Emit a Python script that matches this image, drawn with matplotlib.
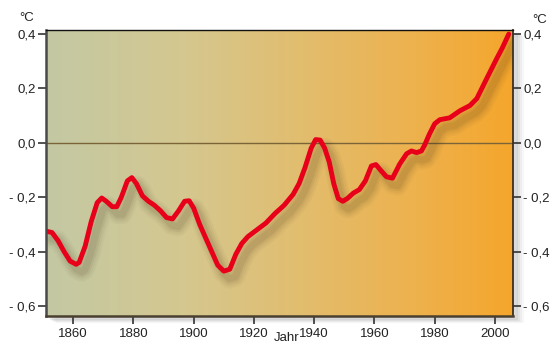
import matplotlib
matplotlib.use("Agg")
import matplotlib.pyplot as plt
import matplotlib.patheffects as pe
from matplotlib.colors import LinearSegmentedColormap
import numpy as np

years = [1851, 1853, 1855, 1857, 1859, 1861, 1862, 1864, 1866, 1868, 1869.5,
         1871, 1873, 1874.5, 1876, 1878, 1879.5, 1881, 1883, 1885, 1887, 1889,
         1891, 1893, 1895, 1897, 1898.5, 1900, 1902, 1904, 1906, 1908, 1910,
         1912, 1914, 1916, 1918, 1921, 1924, 1927, 1930, 1933, 1935, 1937,
         1939, 1940.5, 1942, 1943.5, 1945, 1946.5, 1948, 1949.5, 1951, 1953,
         1955, 1957, 1959, 1960.5, 1962, 1964, 1966, 1968.4, 1970.7, 1972.3,
         1974, 1975.6, 1976.6, 1978.3, 1980, 1981.7, 1985, 1988.4, 1991.7,
         1994, 1997.3, 2000.6, 2002.5, 2004.6]
temps = [-0.325, -0.33, -0.36, -0.40, -0.435, -0.447, -0.44, -0.38, -0.29,
         -0.22, -0.203, -0.215, -0.235, -0.235, -0.20, -0.14, -0.128, -0.15,
         -0.195, -0.215, -0.23, -0.25, -0.275, -0.28, -0.25, -0.215, -0.213,
         -0.24, -0.30, -0.35, -0.40, -0.45, -0.472, -0.465, -0.41, -0.37,
         -0.345, -0.32, -0.295, -0.26, -0.23, -0.19, -0.15, -0.09, -0.02,
         0.012, 0.01, -0.02, -0.07, -0.15, -0.205, -0.215, -0.205, -0.185,
         -0.172, -0.14, -0.085, -0.08, -0.10, -0.125, -0.13, -0.078, -0.04,
         -0.03, -0.036, -0.03, -0.01, 0.033, 0.07, 0.085, 0.092, 0.118, 0.137,
         0.163, 0.237, 0.31, 0.35, 0.40]

xticks = [1860, 1880, 1900, 1920, 1940, 1960, 1980, 2000]
yticks = [0.4, 0.2, 0.0, -0.2, -0.4, -0.6]
ylabels = ["0,4", "0,2", "0,0", "- 0,2", "- 0,4", "- 0,6"]

plt.rcParams['font.family'] = ['Liberation Sans', 'DejaVu Sans']

fig = plt.figure(figsize=(5.55, 3.45), dpi=100)
fig.patch.set_facecolor('white')
ax = fig.add_axes([46/555, 29/345, 467/555, 286/345])

xmin, xmax = 1851, 2006
ymin, ymax = -0.637, 0.415

# panel drop shadow
for i, a in enumerate([0.05, 0.04, 0.03, 0.02]):
    r = plt.Rectangle((46/555 + (4+i*2)/555, 29/345 - (3+i)/345), 467/555, 286/345,
                      transform=fig.transFigure, color='black', alpha=a, zorder=-5)
    fig.patches.append(r)

cmap = LinearSegmentedColormap.from_list(
    'bg', [(0.0, '#c3c9a4'), (0.3, '#d5c78f'), (0.55, '#e2bd6e'),
           (0.8, '#eeb14c'), (1.0, '#f5a62c')])
grad = np.linspace(0, 1, 512).reshape(1, -1)
ax.imshow(grad, cmap=cmap, extent=[xmin, xmax, ymin, ymax], aspect='auto',
          zorder=0, interpolation='bilinear')

ax.axhline(0, color='#7a6438', lw=1.0, zorder=1)

shadow = [pe.SimpleLineShadow(offset=(4, -5.5), shadow_color='#3a2a10', alpha=0.035, linewidth=14),
          pe.SimpleLineShadow(offset=(4, -5.5), shadow_color='#3a2a10', alpha=0.045, linewidth=11),
          pe.SimpleLineShadow(offset=(4, -5.5), shadow_color='#3a2a10', alpha=0.06, linewidth=8),
          pe.SimpleLineShadow(offset=(4, -5.5), shadow_color='#3a2a10', alpha=0.08, linewidth=5),
          pe.Normal()]
ax.plot(years, temps, color='#e8001a', lw=3.5, solid_capstyle='round',
        solid_joinstyle='round', zorder=3, path_effects=shadow)

ax.set_xlim(xmin, xmax)
ax.set_ylim(ymin, ymax)
ax.set_xticks(xticks)
ax.set_xticklabels([str(x) for x in xticks])
ax.set_yticks(yticks)
ax.set_yticklabels(ylabels)
ax.tick_params(axis='y', which='both', left=True, right=True, labelleft=True,
               labelright=True, length=6, width=1.2, color='#333333', pad=1.5,
               labelsize=9.5, labelcolor='#222222')
ax.tick_params(axis='x', length=5.5, width=1.2, color='#333333', pad=3,
               labelsize=9.5, labelcolor='#222222')

ax.spines['left'].set_color('#4a4a4a')
ax.spines['left'].set_linewidth(1.8)
ax.spines['bottom'].set_color('#4a4030')
ax.spines['bottom'].set_linewidth(1.8)
ax.spines['top'].set_color('#111111')
ax.spines['top'].set_linewidth(1.0)
ax.spines['right'].set_color('#3a3020')
ax.spines['right'].set_linewidth(1.3)
for s in ax.spines.values():
    s.set_zorder(5)

fig.text(27/555, 1 - 18/345, "°C", ha='center', va='center', fontsize=9.5, color='#222222')
fig.text(540/555, 1 - 20/345, "°C", ha='center', va='center', fontsize=9.5, color='#222222')
fig.text(287/555, 1/345, "Jahr", ha='center', va='bottom', fontsize=9.5, color='#222222')

fig.savefig("out.png", dpi=100, facecolor=fig.get_facecolor())
